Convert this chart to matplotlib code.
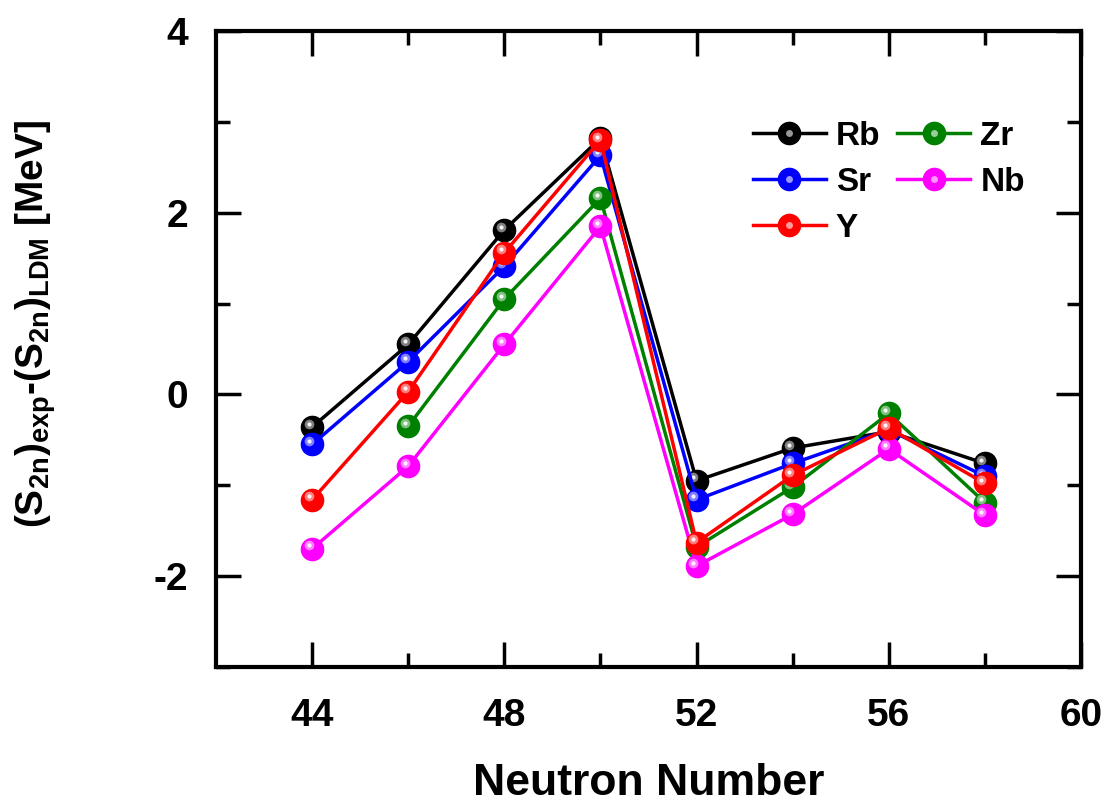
# S2n deviation vs neutron number
import matplotlib
matplotlib.use("Agg")
from matplotlib import pyplot as plt
from matplotlib import transforms
from matplotlib.lines import Line2D

plt.rcParams['font.family'] = ['Liberation Sans', 'DejaVu Sans']
plt.rcParams['font.weight'] = 'bold'
plt.rcParams['axes.unicode_minus'] = False
plt.rcParams['mathtext.fontset'] = 'custom'
plt.rcParams['mathtext.rm'] = 'Liberation Sans:bold'
plt.rcParams['mathtext.bf'] = 'Liberation Sans:bold'
plt.rcParams['mathtext.it'] = 'Liberation Sans:bold'

# data
n_all = [44, 46, 48, 50, 52, 54, 56, 58]
n_zr = [46, 48, 50, 52, 54, 56, 58]
rb = [-0.36, 0.55, 1.81, 2.82, -0.95, -0.59, -0.41, -0.76]
sr = [-0.55, 0.36, 1.41, 2.63, -1.16, -0.76, -0.39, -0.90]
y_ = [-1.16, 0.03, 1.56, 2.80, -1.63, -0.89, -0.37, -0.98]
zr = [-0.35, 1.05, 2.16, -1.68, -1.02, -0.21, -1.19]
nb = [-1.70, -0.79, 0.55, 1.85, -1.89, -1.32, -0.60, -1.33]

series = [
    ("Rb", n_all, rb, "black"),
    ("Sr", n_all, sr, "blue"),
    ("Zr", n_zr, zr, "green"),
    ("Nb", n_all, nb, "magenta"),
    ("Y", n_all, y_, "red"),
]

fig = plt.figure(figsize=(11.06, 8.06), dpi=100)
ax = fig.add_axes([0.1953, 0.1725, 0.7821, 0.789])

# small offset for the sphere highlight
hl = transforms.offset_copy(ax.transData, fig=fig, x=-2.5, y=2.5, units='points')

handles = {}
z = 2
for name, x, y, c in series:
    ln, = ax.plot(x, y, color=c, lw=2.5, marker='o', ms=16, mec=c, mfc=c, zorder=z)
    ax.plot(x, y, ls='none', marker='o', ms=7, mfc='white', mec='none', alpha=0.5,
            transform=hl, zorder=z + 0.1)
    ax.plot(x, y, ls='none', marker='o', ms=3, mfc='white', mec='none', alpha=0.9,
            transform=hl, zorder=z + 0.2)
    h2 = Line2D([], [], ls='none', marker='o', ms=5, mfc='white', mec='none', alpha=0.6)
    handles[name] = (ln, h2)
    z += 1

ax.set_xlim(42, 60)
ax.set_ylim(-3, 4)
ax.set_xticks([44, 48, 52, 56, 60])
ax.set_xticks([46, 50, 54, 58], minor=True)
ax.set_yticks([-2, 0, 2, 4])
ax.set_yticks([-3, -1, 1, 3], minor=True)
ax.tick_params(which='both', direction='in', top=True, right=True, width=2.5,
               labelsize=28)
ax.tick_params(axis='x', pad=22)
ax.tick_params(axis='y', pad=20)
ax.tick_params(which='major', length=18)
ax.tick_params(which='minor', length=10)
for s in ax.spines.values():
    s.set_linewidth(3)

ax.set_xlabel("Neutron Number", fontsize=32, fontweight='bold', labelpad=21)
ax.set_ylabel(r"$\mathbf{(S_{2n})_{exp}}$-$\mathbf{(S_{2n})_{LDM}}$ [MeV]",
              fontsize=28, fontweight='bold')
ax.yaxis.set_label_coords(-0.183, 0.54)

order = ["Rb", "Sr", "Y", "Zr", "Nb"]
ax.legend([handles[k] for k in order], order, ncol=2, frameon=False,
          fontsize=24, loc='upper left', bbox_to_anchor=(0.601, 0.885),
          handlelength=2.2, handletextpad=0.3, columnspacing=0.5,
          labelspacing=0.45, borderpad=0)

plt.savefig("out.png", dpi=100)
